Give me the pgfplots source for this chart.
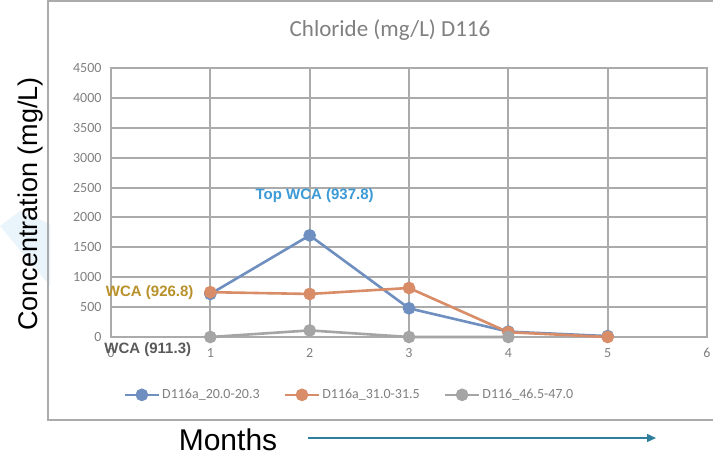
\documentclass[border=0pt]{standalone}
\usepackage{pgfplots}
\pgfplotsset{compat=1.18}
\usepackage{fontspec}
\setmainfont{Liberation Sans}
\newfontfamily\carlito{Carlito}
\usetikzlibrary{arrows.meta}
\definecolor{sblue}{HTML}{6F8FC0}
\definecolor{sorange}{HTML}{D88C68}
\definecolor{sgray}{HTML}{A5A5A5}
\definecolor{gridc}{HTML}{ABABAB}
\definecolor{tickc}{HTML}{808080}
\definecolor{topwca}{HTML}{3C9AD6}
\definecolor{wcagold}{HTML}{B8912A}
\definecolor{wcadark}{HTML}{5A5A5A}
\definecolor{wm}{HTML}{EAF4FB}
\definecolor{arrowc}{HTML}{2F7F9C}
\begin{document}
\begin{tikzpicture}[x=1pt,y=1pt]
\useasboundingbox (0,0) rectangle (713,456);
% background
\fill[white] (0,0) rectangle (713,456);
\fill[wm] (0,230) -- (50,170) -- (50,232) -- (20,245) -- cycle;
% chart area border
\draw[gridc, line width=1.2] (48,456) -- (48,36) -- (713,36);
\draw[gridc, line width=1.2] (48,455) -- (713,455);
\begin{axis}[
  at={(111pt,119pt)}, anchor=south west,
  scale only axis, width=596pt, height=269pt,
  xmin=0, xmax=6, ymin=0, ymax=4500,
  xtick={0,1,2,3,4,5,6}, ytick={0,500,...,4500},
  grid=major, major grid style={draw=gridc, line width=2pt},
  axis line style={draw=gridc, line width=2pt},
  tick style={draw=none},
  tick label style={font=\carlito\fontsize{14}{14}\selectfont, text=tickc},
  /pgf/number format/assume math mode=true,
  /pgf/number format/1000 sep={},
  xticklabel style={yshift=-8pt},
  yticklabel style={xshift=-6pt},
  clip=false,
  legend style={at={(0.40,-0.215)}, anchor=center, draw=none, fill=none,
    font=\carlito\fontsize{14}{14}\selectfont, text=tickc,
    legend columns=3, /tikz/every even column/.append style={column sep=22pt}},
  legend image code/.code={
    \draw[#1, mark repeat=2, mark phase=2] plot coordinates {(0pt,0pt) (17pt,0pt) (34pt,0pt)};},
]
\addplot[sblue, line width=2.6pt, mark=*, mark size=5pt] coordinates {(1,720) (2,1700) (3,480) (4,90) (5,15)};
\addlegendentry{D116a\_20.0-20.3}
\addplot[sorange, line width=2.6pt, mark=*, mark size=5pt] coordinates {(1,750) (2,720) (3,820) (4,80) (5,0)};
\addlegendentry{D116a\_31.0-31.5}
\addplot[sgray, line width=2.6pt, mark=*, mark size=5pt] coordinates {(1,0) (2,110) (3,0) (4,0)};
\addlegendentry{D116\_46.5-47.0}
\node[font=\bfseries\fontsize{15}{15}\selectfont, text=topwca] at (axis cs:2.05,2370) {Top WCA (937.8)};
\node[font=\bfseries\fontsize{15}{15}\selectfont, text=wcagold] at (axis cs:0.39,735) {WCA (926.8)};
\node[font=\bfseries\fontsize{15}{15}\selectfont, text=wcadark] at (axis cs:0.37,-215) {WCA (911.3)};
\end{axis}
% title
\node[font=\carlito\fontsize{23}{23}\selectfont, text=tickc] at (390,426) {Chloride (mg/L) D116};
% y label
\node[rotate=90, font=\fontsize{27}{27}\selectfont] at (31,252) {Concentration (mg/L)};
% x label and arrow
\node[font=\fontsize{30}{30}\selectfont, anchor=base, inner sep=0pt] at (228,6) {Months};
\draw[arrowc, line width=1.5pt, -{Triangle[length=9pt,width=8pt]}] (308,18) -- (656,18);
\end{tikzpicture}
\end{document}
